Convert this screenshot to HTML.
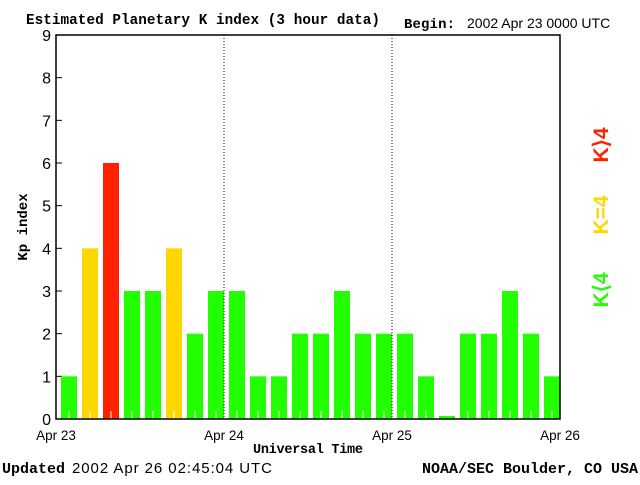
<!DOCTYPE html>
<html><head><meta charset="utf-8"><style>
body{margin:0;background:#fff;}
svg text{font-family:"Liberation Sans",sans-serif;}
.ser{font-family:"Liberation Mono",monospace;}
</style></head><body>
<svg id="chart" width="640" height="480" xmlns="http://www.w3.org/2000/svg">
<text class="ser" x="26" y="24" font-size="14.3" font-weight="bold" textLength="354">Estimated Planetary K index (3 hour data)</text>
<text class="ser" x="404" y="28" font-size="14" font-weight="bold" textLength="51">Begin:</text>
<text x="467" y="28" font-size="14">2002 Apr 23 0000 UTC</text>
<g id="yaxis"></g>
<g id="bars"></g>
<g id="xaxis"></g>
<rect x="56" y="35" width="504" height="384" fill="none" stroke="#000" stroke-width="1.5"/>
<text class="ser" transform="translate(27,227) rotate(-90)" text-anchor="middle" font-size="14" font-weight="bold">Kp index</text>
<text class="ser" x="308" y="453" text-anchor="middle" font-size="13.5" font-weight="bold" textLength="110">Universal Time</text>
<text transform="translate(608,290) rotate(-90)" text-anchor="middle" font-size="21" fill="#22ff00" font-weight="bold">K⟨4</text>
<text transform="translate(608,215) rotate(-90)" text-anchor="middle" font-size="21" fill="#ffd700" font-weight="bold">K=4</text>
<text transform="translate(608,145) rotate(-90)" text-anchor="middle" font-size="21" fill="#ff2200" font-weight="bold">K⟩4</text>
<text class="ser" x="2" y="473" font-size="15" font-weight="bold">Updated</text>
<text x="72" y="473" font-size="15" textLength="200">2002 Apr 26 02:45:04 UTC</text>
<text class="ser" x="638" y="473" text-anchor="end" font-size="15" font-weight="bold" textLength="216">NOAA/SEC Boulder, CO USA</text>
</svg>
<script>
const kpValues=[1,4,6,3,3,4,2,3, 3,1,1,2,2,3,2,2, 2,1,0,2,2,3,2,1];
const dayLabels=["Apr 23","Apr 24","Apr 25","Apr 26"];
const yTicks=[0,1,2,3,4,5,6,7,8,9];
const NS="http://www.w3.org/2000/svg";
const x0=56,x1=560,y0=419,y1=35,yMax=9;
const slot=(x1-x0)/kpValues.length;
const xs=i=>x0+i*slot;
const ys=v=>y0-(v/yMax)*(y0-y1);
function mk(t,a,p){const e=document.createElementNS(NS,t);for(const k in a)e.setAttribute(k,a[k]);p.appendChild(e);return e;}
const ya=document.getElementById('yaxis'),ba=document.getElementById('bars'),xa=document.getElementById('xaxis');
yTicks.forEach(t=>{
  const l=mk('line',{x1:x0,x2:x0+6,y1:ys(t),y2:ys(t),stroke:'#000'},ya);
  
  
  const tx=mk('text',{x:51,y:ys(t)+6,'text-anchor':'end','font-size':'16'},ya);
  tx.textContent=t;
  
  
});
kpValues.forEach((v,i)=>{
  const col=v>4?'#ff2200':(v==4?'#ffd700':'#22ff00');
  const top=v===0?y0-3:ys(v);
  const r=mk('rect',{x:xs(i)+5,y:top,width:16,height:y0-top,fill:col},ba);
  
  
  if(v>0){const t=mk('line',{x1:xs(i)+13,x2:xs(i)+13,y1:y0-8,y2:y0,stroke:'#fff'},ba);
  
  }
});
dayLabels.forEach((d,i)=>{
  const x=x0+i*(x1-x0)/(dayLabels.length-1);
  if(i>0&&i<dayLabels.length-1){
    const l=mk('line',{x1:x,x2:x,y1:y1,y2:y0,stroke:'#000','stroke-dasharray':'1,2'},xa);
    
    
  }
  const tx=mk('text',{x:x,y:440,'text-anchor':'middle','font-size':'13.5'},xa);
  tx.textContent=d;
  
  
});
</script>
</body></html>
